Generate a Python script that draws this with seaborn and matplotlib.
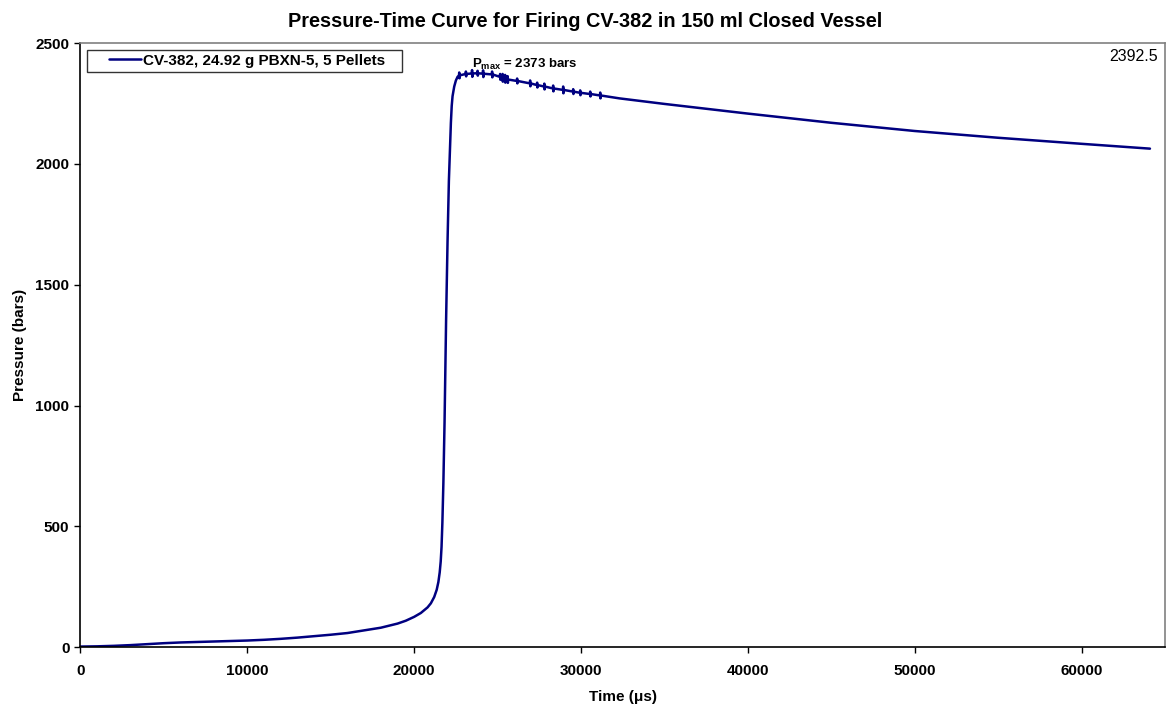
import matplotlib
matplotlib.use("Agg")
import matplotlib.pyplot as plt
from matplotlib.lines import Line2D
from matplotlib.legend_handler import HandlerLine2D
import seaborn as sns
import pandas as pd

# ---- data ----
time_us = [
    0, 1000, 2000, 3000, 4000, 5000, 6000, 7000, 8000, 9000, 10000, 11000,
    12000, 13000, 14000, 15000, 16000, 17000, 18000, 19000, 19500, 20000,
    20400, 20800, 21000, 21200, 21350, 21450, 21530, 21590, 21640, 21690,
    21750, 21820, 21913, 22000, 22080, 22150, 22200, 22250, 22300, 22400,
    22500, 22600,
    22685, 22700, 22715, 22730,
    23085, 23100, 23115, 23130,
    23455, 23470, 23485, 23500,
    23785, 23800, 23815, 23830,
    24115, 24130, 24145, 24160,
    24655, 24670, 24685, 24700,
    25135, 25150, 25165, 25180,
    25285, 25300, 25315, 25330,
    25435, 25450, 25465, 25480,
    25585, 25600, 25615, 25630,
    26155, 26170, 26185, 26200,
    26935, 26950, 26965, 26980,
    27355, 27370, 27385, 27400,
    27785, 27800, 27815, 27830,
    28315, 28330, 28345, 28360,
    28915, 28930, 28945, 28960,
    29515, 29530, 29545, 29560,
    29935, 29950, 29965, 29980,
    30535, 30550, 30565, 30580,
    31135, 31150, 31165, 31180,
    32300, 35000, 40000, 45000, 50000, 55000, 60000, 64100,
]
pressure_bar = [
    3, 4, 6, 9, 13, 17, 20, 22, 24, 26, 28, 31,
    35, 40, 46, 52, 59, 70, 81, 98, 110, 126,
    142, 165, 182, 208, 238, 270, 310, 355, 415, 515,
    680, 930, 1354, 1680, 1930, 2071, 2170, 2240, 2280, 2320,
    2345, 2360,
    2366, 2378, 2354, 2366,
    2372, 2382, 2362, 2372,
    2374, 2388, 2360, 2374,
    2375, 2385, 2365, 2375,
    2373, 2387, 2359, 2373,
    2370, 2382, 2358, 2370,
    2360, 2372, 2348, 2360,
    2356, 2372, 2340, 2356,
    2352, 2368, 2336, 2352,
    2349, 2363, 2335, 2349,
    2343, 2353, 2333, 2343,
    2333, 2345, 2321, 2333,
    2326, 2336, 2316, 2326,
    2320, 2332, 2308, 2320,
    2312, 2324, 2300, 2312,
    2306, 2320, 2292, 2306,
    2299, 2309, 2289, 2299,
    2294, 2304, 2284, 2294,
    2289, 2299, 2279, 2289,
    2283, 2295, 2271, 2283,
    2271, 2248, 2208, 2170, 2136, 2108, 2083, 2063,
]
series_label = "CV-382, 24.92 g PBXN-5, 5 Pellets"
x_ticks = [0, 10000, 20000, 30000, 40000, 50000, 60000]
y_ticks = [0, 500, 1000, 1500, 2000, 2500]
pmax_value = 2373
corner_value = "2392.5"

df = pd.DataFrame({"Time": time_us, "Pressure": pressure_bar})

sns.set_theme(style="white")
plt.rcParams["font.family"] = ["Liberation Sans", "DejaVu Sans"]
plt.rcParams["mathtext.fontset"] = "custom"
plt.rcParams["mathtext.rm"] = "Liberation Sans:bold"
plt.rcParams["mathtext.bf"] = "Liberation Sans:bold"
plt.rcParams["mathtext.it"] = "Liberation Sans:bold"
for key in ["text.color", "axes.labelcolor", "xtick.color", "ytick.color"]:
    plt.rcParams[key] = "black"

fig = plt.figure(figsize=(11.7, 7.11), dpi=100)
ax = fig.add_axes([0.0688, 0.0896, 0.9269, 0.8499])

sns.lineplot(data=df, x="Time", y="Pressure", ax=ax, color="#000080",
             linewidth=1.8, estimator=None, sort=False, label=series_label)

ax.set_xlim(0, 65000)
ax.set_ylim(0, 2500)
ax.set_xticks(x_ticks)
ax.set_yticks(y_ticks)
ax.set_xticklabels([str(t) for t in x_ticks], fontweight="bold", fontsize=11)
ax.set_yticklabels([str(t) for t in y_ticks], fontweight="bold", fontsize=11)
ax.tick_params(axis="x", direction="out", length=4, width=1, color="black",
               bottom=True, pad=8)
ax.tick_params(axis="y", direction="out", length=4, width=1, color="black",
               left=True, pad=4)

for side in ["top", "right"]:
    ax.spines[side].set_color("#808080")
    ax.spines[side].set_linewidth(1.2)
for side in ["left", "bottom"]:
    ax.spines[side].set_color("black")
    ax.spines[side].set_linewidth(1.2)

ax.set_xlabel("Time (\u03bcs)", fontweight="bold", fontsize=11, labelpad=9)
ax.set_ylabel("Pressure (bars)", fontweight="bold", fontsize=11, labelpad=6)
fig.suptitle("Pressure-Time Curve for Firing CV-382 in 150 ml Closed Vessel",
             fontweight="bold", fontsize=14.3, y=0.983)

leg = ax.legend(loc="upper left", bbox_to_anchor=(0.006, 0.9884),
                borderaxespad=0, frameon=True, fancybox=False,
                edgecolor="black", handlelength=3.29, handletextpad=0.13,
                borderpad=0.25,
                handler_map={Line2D: HandlerLine2D(xpad=1.19)},
                labels=[series_label + "   "],
                handles=ax.get_lines()[:1],
                prop={"weight": "bold", "size": 11})
leg.get_frame().set_linewidth(1.0)

ax.text(23470, 2399, r"P$_{\mathrm{max}}$ = " + f"{pmax_value} bars",
        fontsize=9.5, fontweight="bold", ha="left", va="baseline")
ax.text(0.9935, 0.970, corner_value, transform=ax.transAxes, fontsize=11.5,
        ha="right", va="baseline")

fig.savefig("out.png", dpi=100, facecolor="white")
